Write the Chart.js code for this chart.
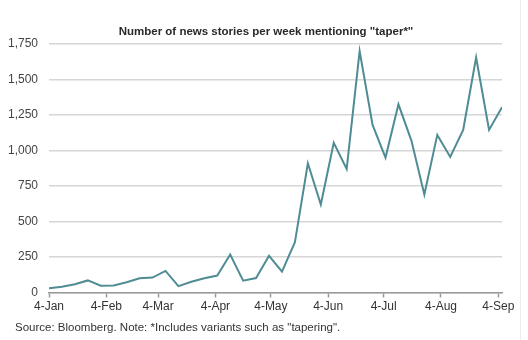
<!DOCTYPE html>
<html>
<head>
<meta charset="utf-8">
<script src="https://cdn.jsdelivr.net/npm/chart.js@4"></script>
<style>
  html, body { margin: 0; padding: 0; background: #fff; }
  #wrap { position: relative; width: 528px; height: 340px; }
  #edge { position: absolute; left: 520px; top: 0; width: 1px; height: 340px; background: #ececec; }
</style>
</head>
<body>
<div id="wrap">
  <canvas id="chart" width="528" height="340"></canvas>
  <div id="edge"></div>
</div>
<script>
// ===== DATA =====
const titleText = 'Number of news stories per week mentioning "taper*"';
const sourceText = 'Source: Bloomberg. Note: *Includes variants such as "tapering".';

// days since 4-Jan, one point per week
const weekDays = [0,7,14,21,28,35,42,49,56,63,70,77,84,91,98,105,112,119,126,133,140,147,154,161,168,175,182,189,196,203,210,217,224,231,238,245];
const stories = [30,40,58,85,48,50,72,100,105,152,45,76,100,119,267,83,102,258,147,355,910,620,1055,870,1700,1180,950,1325,1070,690,1110,955,1145,1655,1145,1305];

const monthTickDays = [0,31,59,90,120,151,181,212,243];
const monthTickLabels = ["4-Jan","4-Feb","4-Mar","4-Apr","4-May","4-Jun","4-Jul","4-Aug","4-Sep"];

const font = "'Liberation Sans', Arial, sans-serif";

// ===== TEXT PLUGIN =====
const textPlugin = {
    id: 'texts',
    afterDraw(chart){
        const ctx = chart.ctx;
        ctx.save();
        ctx.textBaseline = 'middle';
        ctx.fillStyle = '#2a2a2a';
        ctx.font = "bold 11.5px " + font;
        ctx.textAlign = 'center';
        ctx.fillText(titleText, 266, 32);
        ctx.fillStyle = '#333';
        ctx.font = "11.5px " + font;
        ctx.textAlign = 'left';
        ctx.fillText(sourceText, 15, 328);
        ctx.restore();
    }
};

new Chart(document.getElementById("chart"), {
    type: 'line',
    data: {
        datasets: [{
            data: weekDays.map((d, i) => ({ x: d, y: stories[i] })),
            borderColor: '#4f8c94',
            borderWidth: 2,
            pointRadius: 0,
            tension: 0,
            fill: false
        }]
    },
    options: {
        responsive: false,
        animation: false,
        layout: { padding: { left: 0, right: 26, top: 44, bottom: 0 } },
        plugins: {
            legend: { display: false },
            tooltip: { enabled: false },
            title: { display: false }
        },
        scales: {
            x: {
                type: 'linear',
                min: 0,
                max: 245,
                afterBuildTicks(scale){
                    scale.ticks = monthTickDays.map(v => ({ value: v }));
                },
                afterFit(scale){ scale.height = 47.5; },
                grid: {
                    drawOnChartArea: false,
                    drawTicks: true,
                    tickLength: 5,
                    tickColor: '#999',
                    tickWidth: 1.5
                },
                border: { color: '#999', width: 1.5 },
                ticks: {
                    autoSkip: false,
                    maxRotation: 0,
                    padding: 2,
                    color: '#333',
                    font: { family: font, size: 12 },
                    callback(v){
                        const i = monthTickDays.indexOf(v);
                        return i >= 0 ? monthTickLabels[i] : '';
                    }
                }
            },
            y: {
                min: 0,
                max: 1750,
                afterFit(scale){ scale.width = 49; },
                ticks: {
                    stepSize: 250,
                    padding: 11,
                    color: '#444',
                    font: { family: font, size: 12 },
                    callback: v => v.toLocaleString('en-US')
                },
                grid: {
                    color: '#d6d6d6',
                    lineWidth: 1.5,
                    drawTicks: false
                },
                border: { display: false }
            }
        }
    },
    plugins: [textPlugin]
});
</script>
</body>
</html>
